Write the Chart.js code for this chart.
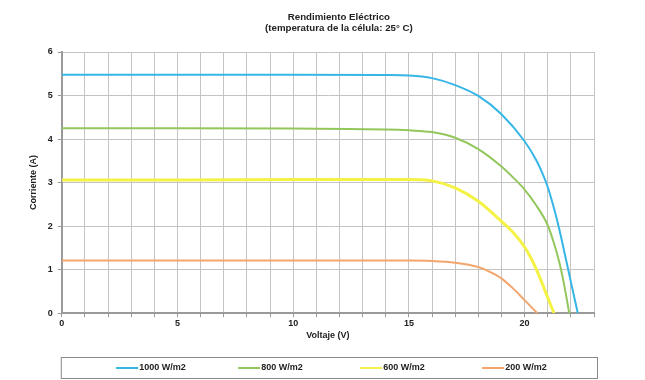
<!DOCTYPE html>
<html>
<head>
<meta charset="utf-8">
<script src="https://cdn.jsdelivr.net/npm/chart.js@4.4.1/dist/chart.umd.min.js"></script>
<style>
  html, body { margin: 0; padding: 0; background: #fff; }
  #wrap { width: 645px; height: 380px; position: relative; }
</style>
</head>
<body>
<div id="wrap"><canvas id="iv"></canvas></div>
<script>
// curvas I-V a 25 C
const titleLines = ['Rendimiento Eléctrico', '(temperatura de la célula: 25° C)'];
const seriesNames = ['1000 W/m2', '800 W/m2', '600 W/m2', '200 W/m2'];
const seriesColors = ['#35b6e6', '#93c75c', '#f4f245', '#f3a56c'];

const v1000 = [0, 5, 10, 14, 15, 16, 17, 18, 19, 20, 20.5, 20.75, 21, 21.25, 21.5, 21.75, 22, 22.3];
const i1000 = [5.48, 5.48, 5.48, 5.47, 5.46, 5.40, 5.24, 4.99, 4.57, 3.95, 3.52, 3.24, 2.90, 2.45, 1.93, 1.33, 0.72, 0];

const v800 = [0, 5, 10, 14, 15, 16, 17, 18, 19, 19.5, 20, 20.5, 21, 21.25, 21.5, 21.7, 21.93];
const i800 = [4.25, 4.25, 4.24, 4.22, 4.20, 4.16, 4.03, 3.77, 3.37, 3.12, 2.84, 2.48, 2.02, 1.64, 1.17, 0.68, 0];

const v600 = [0, 5, 10, 15, 16, 17, 18, 19, 19.5, 20, 20.25, 20.5, 20.75, 21, 21.27];
const i600 = [3.06, 3.06, 3.07, 3.07, 3.04, 2.88, 2.57, 2.11, 1.86, 1.52, 1.29, 1.02, 0.70, 0.36, 0];

const v200 = [0, 5, 10, 15, 16, 17, 18, 18.5, 19, 19.5, 20, 20.55];
const i200 = [1.21, 1.21, 1.21, 1.21, 1.20, 1.16, 1.06, 0.95, 0.80, 0.57, 0.30, 0];

const xTickLabels = [0, 5, 10, 15, 20];
const yTickLabels = [0, 1, 2, 3, 4, 5, 6];

const pts = (vs, is) => vs.map((v, k) => ({ x: v, y: is[k] }));
const curves = [pts(v1000, i1000), pts(v800, i800), pts(v600, i600), pts(v200, i200)];
const widths = [2, 2, 3, 2];

const FONT = 'Liberation Sans, Arial, sans-serif';

// titulo de dos lineas
const titlePlugin = {
  id: 'titulo',
  afterDraw(chart) {
    const ctx = chart.ctx, ca = chart.chartArea;
    const cx = (ca.left + ca.right) / 2 + 11;
    ctx.save();
    ctx.fillStyle = '#222';
    ctx.font = 'bold 9.7px ' + FONT;
    ctx.textAlign = 'center';
    ctx.textBaseline = 'middle';
    ctx.fillText(titleLines[0], cx, 17);
    ctx.fillText(titleLines[1], cx, 28);
    ctx.restore();
  }
};

// leyenda en recuadro
const legendPlugin = {
  id: 'leyendaCaja',
  afterDraw(chart) {
    const ctx = chart.ctx, ca = chart.chartArea;
    const top = chart.height - 23, h = 21;
    const left = ca.left - 1, right = ca.right + 3;
    ctx.save();
    ctx.strokeStyle = '#8a8a8a';
    ctx.lineWidth = 1;
    ctx.strokeRect(left + 0.5, top + 0.5, right - left, h);
    ctx.font = 'bold 9px ' + FONT;
    ctx.textBaseline = 'middle';
    ctx.fillStyle = '#222';
    const step = 122, lineLen = 22;
    const lastW = lineLen + ctx.measureText(seriesNames[seriesNames.length - 1]).width;
    const total = step * (seriesNames.length - 1) + lastW;
    let x = (left + right) / 2 + 2 - total / 2;
    const y = top + h / 2 + 0.5;
    chart.data.datasets.forEach((ds) => {
      ctx.strokeStyle = ds.borderColor;
      ctx.lineWidth = 2;
      ctx.beginPath();
      ctx.moveTo(x, y);
      ctx.lineTo(x + lineLen, y);
      ctx.stroke();
      ctx.fillText(ds.label, x + lineLen + 1, y);
      x += step;
    });
    ctx.restore();
  }
};

new Chart(document.getElementById('iv'), {
  type: 'line',
  data: {
    datasets: curves.map((d, k) => ({
      label: seriesNames[k],
      data: d,
      borderColor: seriesColors[k],
      backgroundColor: seriesColors[k],
      borderWidth: widths[k],
      pointRadius: 0,
      fill: false,
      cubicInterpolationMode: 'monotone'
    }))
  },
  options: {
    responsive: true,
    maintainAspectRatio: false,
    animation: false,
    layout: { padding: { left: 28, right: 51, top: 52, bottom: 39 } },
    plugins: {
      legend: { display: false },
      title: { display: false },
      tooltip: { enabled: false }
    },
    scales: {
      x: {
        type: 'linear',
        min: 0,
        max: 23,
        border: { color: '#9a9a9a', width: 2 },
        grid: { color: '#c4c4c4', lineWidth: 1, tickLength: 4, tickColor: '#9a9a9a' },
        ticks: {
          stepSize: 1,
          autoSkip: false,
          maxRotation: 0,
          padding: 2,
          color: '#222',
          font: { family: FONT, size: 9, weight: 'bold', lineHeight: 1 },
          callback: v => xTickLabels.includes(v) ? String(v) : ''
        },
        title: {
          display: true,
          text: 'Voltaje (V)',
          color: '#222',
          font: { family: FONT, size: 9, weight: 'bold' },
          padding: { top: 0, bottom: 0 }
        }
      },
      y: {
        min: 0,
        max: 6,
        border: { color: '#9a9a9a', width: 2 },
        grid: { color: '#c4c4c4', lineWidth: 1, tickLength: 4, tickColor: '#9a9a9a' },
        ticks: {
          stepSize: 1,
          padding: 5,
          color: '#222',
          font: { family: FONT, size: 9, weight: 'bold' },
          callback: v => yTickLabels.includes(v) ? String(v) : ''
        },
        title: {
          display: true,
          text: 'Corriente (A)',
          color: '#222',
          font: { family: FONT, size: 9, weight: 'bold' },
          padding: { top: 0, bottom: 4 }
        }
      }
    }
  },
  plugins: [titlePlugin, legendPlugin]
});
</script>
</body>
</html>
